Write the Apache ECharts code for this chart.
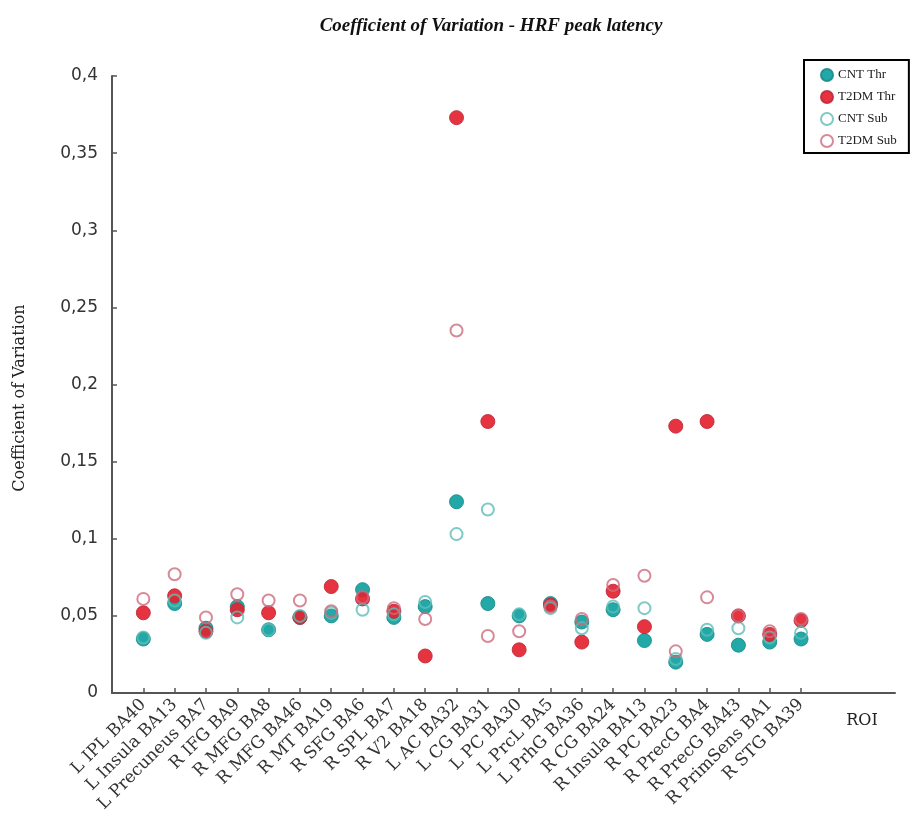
<!DOCTYPE html>
<html>
<head>
<meta charset="utf-8">
<script src="https://cdn.jsdelivr.net/npm/echarts@6/dist/echarts.min.js"></script>
<style>html,body{margin:0;padding:0;background:#fff}#c{width:914px;height:823px}</style>
</head>
<body>
<div id="c"></div>
<script>
const categories = ['L IPL BA40','L Insula BA13','L Precuneus BA7','R IFG BA9','R MFG BA8','R MFG BA46','R MT BA19','R SFG BA6','R SPL BA7','R V2 BA18','L AC BA32','L CG BA31','L PC BA30','L PrcL BA5','L PrhG BA36','R CG BA24','R Insula BA13','R PC BA23','R PrecG BA4','R PrecG BA43','R PrimSens BA1','R STG BA39'];
const cntThr  = [0.035,0.058,0.042,0.056,0.041,0.049,0.050,0.067,0.049,0.056,0.124,0.058,0.050,0.058,0.046,0.054,0.034,0.020,0.038,0.031,0.033,0.035];
const t2dmThr = [0.052,0.063,0.040,0.054,0.052,0.049,0.069,0.061,0.053,0.024,0.373,0.176,0.028,0.057,0.033,0.066,0.043,0.173,0.176,0.050,0.038,0.047];
const cntSub  = [0.036,0.060,0.039,0.049,0.041,0.050,0.052,0.054,0.051,0.059,0.103,0.119,0.051,0.055,0.042,0.056,0.055,0.022,0.041,0.042,0.036,0.039];
const t2dmSub = [0.061,0.077,0.049,0.064,0.060,0.060,0.053,0.062,0.055,0.048,0.235,0.037,0.040,0.056,0.048,0.070,0.076,0.027,0.062,0.050,0.040,0.048];
const yTicks = [0,0.05,0.1,0.15,0.2,0.25,0.3,0.35,0.4];

const axisCats = [''].concat(categories, ['', '', '']);
const pairs = arr => arr.map((v, i) => [categories[i], v]);

const chart = echarts.init(document.getElementById('c'), null, {renderer: 'canvas'});
const serif = 'DejaVu Serif';
chart.setOption({
  animation: false,
  title: {
    text: 'Coefficient of Variation - HRF peak latency',
    left: 486, top: 12, textAlign: 'center',
    textStyle: {fontFamily: 'Liberation Serif', fontSize: 19, fontWeight: 'bold', fontStyle: 'italic', color: '#111'}
  },
  legend: {
    orient: 'vertical', left: 804, top: 60,
    borderColor: '#000', borderWidth: 2,
    padding: [8, 12, 5, 16], itemGap: 8,
    itemWidth: 12, itemHeight: 12,
    textStyle: {fontFamily: 'Liberation Serif', fontSize: 13, color: '#222'},
    data: ['CNT Thr', 'T2DM Thr', 'CNT Sub', 'T2DM Sub']
  },
  grid: {left: 112, right: 19, top: 76, bottom: 130},
  xAxis: {
    type: 'category', data: axisCats, boundaryGap: false,
    axisLine: {lineStyle: {color: '#555', width: 2}},
    axisTick: {inside: true, length: 5, lineStyle: {color: '#555', width: 1.5}, interval: (i, v) => v !== ''},
    axisLabel: {interval: (i, v) => v !== '', rotate: 45, margin: 9, fontFamily: serif, fontSize: 17, color: '#333'},
    splitLine: {show: false}
  },
  yAxis: {
    type: 'value', min: 0, max: 0.4, interval: 0.05,
    axisLine: {show: true, lineStyle: {color: '#555', width: 2}},
    axisTick: {show: true, inside: true, length: 5, lineStyle: {color: '#555', width: 1.5}},
    axisLabel: {margin: 14, fontFamily: 'DejaVu Sans', fontSize: 17, color: '#333',
      formatter: v => { const t = yTicks.find(x => Math.abs(x - v) < 1e-9); return String(t !== undefined ? t : +v.toFixed(2)).replace('.', ','); }},
    splitLine: {show: false}
  },
  graphic: [
    {type: 'text', x: 20, y: 398, rotation: Math.PI / 2,
      style: {text: 'Coefficient of Variation', font: '16px "DejaVu Serif"', fill: '#222', textAlign: 'center', textVerticalAlign: 'middle'}},
    {type: 'text', x: 862, y: 721,
      style: {text: 'ROI', font: '16px "DejaVu Serif"', fill: '#222', textAlign: 'center', textVerticalAlign: 'middle'}}
  ],
  series: [
    {name: 'CNT Thr', type: 'scatter', symbol: 'circle', symbolSize: 14, z: 3, data: pairs(cntThr),
      itemStyle: {color: '#0fa29f', borderColor: '#1b8d8b', borderWidth: 1, opacity: 0.92}},
    {name: 'T2DM Thr', type: 'scatter', symbol: 'circle', symbolSize: 14, z: 4, data: pairs(t2dmThr),
      itemStyle: {color: '#e3232f', borderColor: '#c12a3e', borderWidth: 1, opacity: 0.92}},
    {name: 'CNT Sub', type: 'scatter', symbol: 'circle', symbolSize: 12, z: 5, data: pairs(cntSub),
      itemStyle: {color: 'rgba(255,255,255,0)', borderColor: '#5dbdb9', borderWidth: 2}},
    {name: 'T2DM Sub', type: 'scatter', symbol: 'circle', symbolSize: 12, z: 6, data: pairs(t2dmSub),
      itemStyle: {color: 'rgba(255,255,255,0)', borderColor: '#cd6b7d', borderWidth: 2}}
  ]
});
</script>
</body>
</html>
